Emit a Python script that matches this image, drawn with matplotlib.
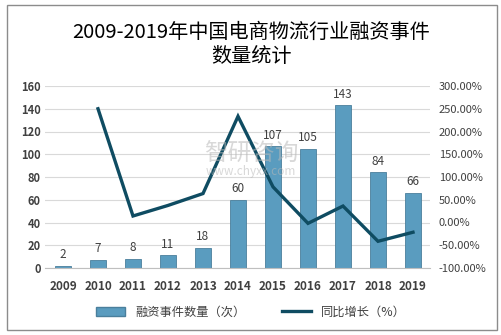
import matplotlib.pyplot as plt
from matplotlib.patches import Rectangle
from matplotlib.lines import Line2D

plt.rcParams['font.family'] = ['Noto Sans CJK SC', 'DejaVu Sans']

years = ['2009', '2010', '2011', '2012', '2013', '2014', '2015', '2016', '2017', '2018', '2019']
events = [2, 7, 8, 11, 18, 60, 107, 105, 143, 84, 66]
growth = [None, 250.0, 14.3, 37.5, 63.6, 233.3, 78.3, -1.9, 36.2, -41.3, -21.4]

bar_color = '#5a9cbf'
line_color = '#0f4c62'
text_color = '#404040'

fig = plt.figure(figsize=(5.02, 3.35), dpi=100)
ax = fig.add_axes([45.5 / 502, 1 - 268 / 335, 385 / 502, 182 / 335])

x = list(range(len(years)))
ax.bar(x, events, width=0.43, color=bar_color, edgecolor='#4a7f9c', linewidth=0.6, zorder=2)
for xi, v in zip(x, events):
    ax.text(xi, v + 4, str(v), ha='center', va='bottom', fontsize=8.5, color=text_color)

ax.set_xlim(-0.5, len(years) - 0.5)
ax.set_ylim(0, 160)
ax.set_yticks(range(0, 161, 20))
ax.yaxis.grid(True, color='#d9d9d9', linewidth=0.8, zorder=0)
ax.set_axisbelow(True)
for s in ['top', 'right', 'left']:
    ax.spines[s].set_visible(False)
ax.spines['bottom'].set_color('#bfbfbf')
ax.tick_params(axis='both', length=0, colors=text_color)
ax.set_xticks(x)
ax.set_xticklabels(years, fontsize=8.5, fontweight='bold')
ax.tick_params(axis='x', pad=9)
for lab in ax.get_yticklabels():
    lab.set_fontsize(8)
    lab.set_fontweight('bold')

ax2 = ax.twinx()
gx = [xi for xi, g in zip(x, growth) if g is not None]
gy = [g for g in growth if g is not None]
ax2.plot(gx, gy, color=line_color, linewidth=2.4, zorder=3, solid_joinstyle='miter')
ax2.set_ylim(-100, 300)
ax2.set_yticks(range(-100, 301, 50))
ax2.set_yticklabels(['%.2f%%' % v for v in range(-100, 301, 50)], fontsize=8, color=text_color)
ax2.tick_params(axis='y', length=0, pad=6)
for s in ['top', 'right', 'left', 'bottom']:
    ax2.spines[s].set_visible(False)

fig.text(0.5, 1 - 44 / 335, '2009-2019年中国电商物流行业融资事件\n数量统计', ha='center', va='center',
         fontsize=14.5, color='black', linespacing=1.2)

# watermark
fig.text(0.5, 1 - 154 / 335, '智研咨询', ha='center', va='center', fontsize=17, color='#b8b8b8', alpha=0.55)
fig.text(0.5, 1 - 172 / 335, 'www.chyxx.com', ha='center', va='center', fontsize=8.5, color='#b8b8b8', alpha=0.55)

handles = [Rectangle((0, 0), 1, 1, color=bar_color, ec='#4a7f9c'),
           Line2D([0], [0], color=line_color, linewidth=2.4)]
fig.legend(handles, ['融资事件数量（次）', '同比增长（%）'], loc='center', bbox_to_anchor=(0.5, 1 - 312 / 335),
           ncol=2, frameon=False, fontsize=8.8, handlelength=2.4, columnspacing=3, labelcolor=text_color)

fig.add_artist(Rectangle((7 / 502, 5 / 335), 490 / 502, 325 / 335, transform=fig.transFigure,
                         fill=False, edgecolor='#8c8c8c', linewidth=1))

fig.savefig('out.png', dpi=100)
